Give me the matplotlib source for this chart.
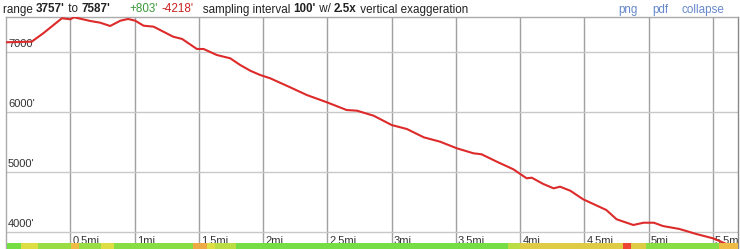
import matplotlib
matplotlib.use("Agg")
import matplotlib.pyplot as plt
import numpy as np

plt.rcParams['font.family'] = ['Liberation Sans', 'DejaVu Sans']

# elevation profile (miles, feet)
dist_mi = [0.0, 0.2, 0.29, 0.435, 0.5, 0.53, 0.655, 0.733, 0.81, 0.89, 0.95, 1.005,
           1.07, 1.148, 1.30, 1.37, 1.485, 1.537, 1.64, 1.744, 1.822, 1.90, 1.977,
           2.055, 2.21, 2.34, 2.496, 2.65, 2.73, 2.86, 3.0, 3.118, 3.25, 3.377,
           3.507, 3.636, 3.70, 3.818, 3.947, 4.05, 4.09, 4.18, 4.26, 4.31, 4.39,
           4.49, 4.67, 4.75, 4.88, 4.96, 5.04, 5.11, 5.24, 5.37, 5.50, 5.61, 5.68]
elev_ft = [7167, 7177, 7317, 7567, 7550, 7583, 7522, 7493, 7438, 7527, 7555, 7527,
           7443, 7427, 7260, 7222, 7055, 7055, 6955, 6900, 6788, 6693, 6622,
           6567, 6417, 6288, 6167, 6038, 6027, 5943, 5788, 5722, 5583, 5510,
           5400, 5317, 5300, 5177, 5050, 4900, 4910, 4805, 4733, 4760, 4693,
           4550, 4372, 4217, 4122, 4160, 4160, 4105, 4055, 3972, 3900, 3800, 3757]

# slope strip segments (mile edges and colours)
strip_edges = [0.0, 0.11, 0.24, 0.5, 0.56, 0.73, 0.83, 1.45, 1.56, 1.62, 1.78,
               3.9, 4.0, 4.8, 4.86, 4.98, 5.55, 5.70]
strip_colors = ['#77dd44', '#dddd44', '#99dd44', '#eebb44', '#99dd44', '#dddd44',
                '#88dd44', '#eeaa44', '#dddd44', '#bbdd44', '#77dd44', '#bbdd44',
                '#ddcc44', '#ee4433', '#ddcc44', '#88dd44', '#eebb44']

x_ticks = [0.5, 1, 1.5, 2, 2.5, 3, 3.5, 4, 4.5, 5, 5.5]
x_labels = ['0.5mi', '1mi', '1.5mi', '2mi', '2.5mi', '3mi', '3.5mi', '4mi', '4.5mi', '5mi', '5.5mi']
y_ticks = [4000, 5000, 6000, 7000]
y_labels = ["4000'", "5000'", "6000'", "7000'"]

W, H = 740, 249
fig = plt.figure(figsize=(W / 100, H / 100), dpi=100)

def px(x0, y0, x1, y1):
    return [x0 / W, 1 - y1 / H, (x1 - x0) / W, (y1 - y0) / H]

ax = fig.add_axes(px(6, 17, 738, 249))
ax.set_xlim(0, (738 - 5.7) / 128.6)
ax.set_ylim(3722, 7588)
for s in ax.spines.values():
    s.set_color('#aaaaaa')
    s.set_linewidth(1)
ax.spines['bottom'].set_visible(False)
ax.spines['right'].set_color('#888888')
ax.set_xticks([])
ax.set_yticks([])
for xt in x_ticks:
    ax.axvline(xt, color='#a0a0a0', lw=1, zorder=1)
for yt in y_ticks:
    ax.axhline(yt, color='#c8c8c8', lw=1, zorder=1)

ax.plot(dist_mi, elev_ft, color='#dd2a2a', lw=1.5, zorder=3, solid_joinstyle='round')

for yt, lab in zip(y_ticks, y_labels):
    ax.annotate(lab, xy=(0, yt), xytext=(1.5, 2.5), textcoords='offset points',
                fontsize=8, color='#333333', va='bottom', ha='left', zorder=2)
for xt, lab in zip(x_ticks, x_labels):
    ax.annotate(lab, xy=(xt, 4000), xytext=(1.5, -3), textcoords='offset points',
                fontsize=8, color='#333333', va='top', ha='left', zorder=2,
                clip_on=True)

# slope strip
sax = fig.add_axes(px(7, 243, 738, 249))
sax.set_xlim(0, (738 - 5.7) / 128.6)
sax.set_ylim(0, 1)
sax.axis('off')
for i, c in enumerate(strip_colors):
    sax.axvspan(strip_edges[i], strip_edges[i + 1], color=c, lw=0)

# header, pieces laid out left to right on one baseline
fs = 8.4
parts = [("range ", 'normal', '#222222'), ("3757'", 'bold', '#222222'),
         (" to ", 'normal', '#222222'), ("7587'", 'bold', '#222222'),
         ("      ", 'normal', '#222222'),
         ("+803'", 'normal', '#3a9a3a'), (" ", 'normal', '#222222'),
         ("-4218'", 'normal', '#cc2222'), ("   sampling interval ", 'normal', '#222222'),
         ("100'", 'bold', '#222222'), (" w/ ", 'normal', '#222222'),
         ("2.5x", 'bold', '#222222'), (" vertical exaggeration", 'normal', '#222222')]
renderer = fig.canvas.get_renderer()
xcur = 3.0
base_y = 1 - 12.5 / H
for s, w, c in parts:
    fig.text(xcur / W, base_y, s, fontsize=fs, fontweight=w, color=c,
             va='baseline', ha='left')
    # measure with a dot appended so trailing spaces count
    probe = fig.text(0, 0, s + '.', fontsize=fs, fontweight=w)
    dot = fig.text(0, 0, '.', fontsize=fs, fontweight=w)
    wdt = probe.get_window_extent(renderer).width - dot.get_window_extent(renderer).width
    probe.remove()
    dot.remove()
    xcur += wdt

for s, x in [("png", 618), ("pdf", 652), ("collapse", 682)]:
    fig.text(x / W, base_y, s, fontsize=fs, color='#6688cc', va='baseline')

fig.savefig('out.png', dpi=100)
